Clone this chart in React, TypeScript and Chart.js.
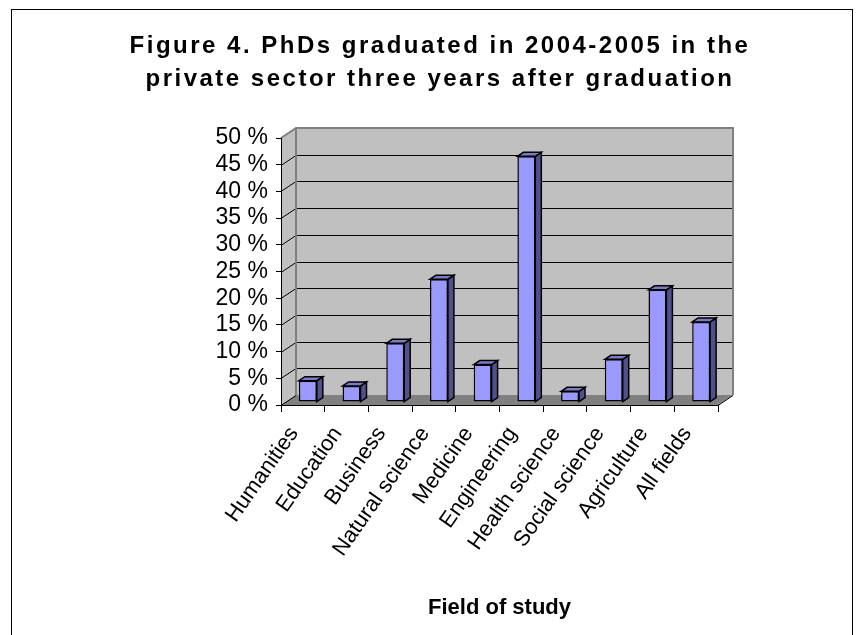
import React, { useEffect, useRef } from 'react';
import { Chart, registerables } from 'chart.js';

Chart.register(...registerables);

const categories = [
  'Humanities',
  'Education',
  'Business',
  'Natural science',
  'Medicine',
  'Engineering',
  'Health science',
  'Social science',
  'Agriculture',
  'All fields',
];
const shares = [4, 3, 11, 23, 7, 46, 2, 8, 21, 15];
const yMin = 0;
const yMax = 50;
const yStep = 5;
const titleLines = [
  'Figure 4. PhDs graduated in 2004-2005 in the',
  'private sector three years after graduation',
];
const xAxisTitle = 'Field of study';

const FONT = '"Liberation Sans", Arial, Helvetica, sans-serif';
const WALL_DX = 15;
const WALL_DY = -10;
const BAR_DX = 5;
const BAR_DY = -3;
const BAR_DEPTH_DX = 6;
const BAR_DEPTH_DY = -4;

function poly(ctx: CanvasRenderingContext2D, pts: number[][]) {
  ctx.beginPath();
  ctx.moveTo(pts[0][0], pts[0][1]);
  for (let i = 1; i < pts.length; i++) ctx.lineTo(pts[i][0], pts[i][1]);
  ctx.closePath();
}

const threeDPlugin = {
  id: 'threeD',
  beforeDraw(chart: any) {
    const ctx: CanvasRenderingContext2D = chart.ctx;
    const { left, right, top, bottom } = chart.chartArea;
    const ys = chart.scales.y;
    ctx.save();
    // outer frame
    ctx.strokeStyle = '#000';
    ctx.lineWidth = 1;
    ctx.strokeRect(11.5, 9.5, 841, 700);
    // side wall
    ctx.fillStyle = '#C0C0C0';
    poly(ctx, [
      [left, top],
      [left + WALL_DX, top + WALL_DY],
      [left + WALL_DX, bottom + WALL_DY],
      [left, bottom],
    ]);
    ctx.fill();
    // back wall
    ctx.fillRect(left + WALL_DX, top + WALL_DY, right - left, bottom - top);
    // floor
    ctx.fillStyle = '#808080';
    poly(ctx, [
      [left, bottom],
      [right, bottom],
      [right + WALL_DX, bottom + WALL_DY],
      [left + WALL_DX, bottom + WALL_DY],
    ]);
    ctx.fill();
    // grid lines
    ctx.strokeStyle = '#000';
    ctx.lineWidth = 1;
    ys.ticks.forEach((t: any) => {
      const py = Math.round(ys.getPixelForValue(t.value)) + 0.5;
      if (t.value > ys.min && t.value < ys.max) {
        ctx.beginPath();
        ctx.moveTo(left + WALL_DX, py + WALL_DY);
        ctx.lineTo(right + WALL_DX, py + WALL_DY);
        ctx.stroke();
      }
      if (t.value < ys.max) {
        ctx.beginPath();
        ctx.moveTo(left, py);
        ctx.lineTo(left + WALL_DX, py + WALL_DY);
        ctx.stroke();
      }
    });
    // wall borders
    ctx.strokeStyle = '#808080';
    ctx.lineWidth = 2;
    ctx.beginPath();
    ctx.moveTo(left, top);
    ctx.lineTo(left + WALL_DX, top + WALL_DY);
    ctx.lineTo(right + WALL_DX, top + WALL_DY);
    ctx.lineTo(right + WALL_DX, bottom + WALL_DY);
    ctx.moveTo(left + WALL_DX, top + WALL_DY);
    ctx.lineTo(left + WALL_DX, bottom + WALL_DY);
    ctx.stroke();
    ctx.restore();
  },
  afterDraw(chart: any) {
    const ctx: CanvasRenderingContext2D = chart.ctx;
    const { right, bottom } = chart.chartArea;
    ctx.save();
    ctx.strokeStyle = '#000';
    ctx.lineWidth = 1;
    ctx.beginPath();
    ctx.moveTo(right, bottom + 0.5);
    ctx.lineTo(right + WALL_DX, bottom + WALL_DY + 0.5);
    ctx.stroke();
    ctx.restore();
  },
  beforeDatasetsDraw(chart: any) {
    chart.ctx.save();
    chart.ctx.translate(BAR_DX, BAR_DY);
  },
  afterDatasetsDraw(chart: any) {
    const ctx: CanvasRenderingContext2D = chart.ctx;
    ctx.restore();
    const meta = chart.getDatasetMeta(0);
    ctx.save();
    ctx.strokeStyle = '#000';
    ctx.lineWidth = 1.5;
    ctx.lineJoin = 'miter';
    meta.data.forEach((el: any) => {
      const { x, y, base, width } = el.getProps(['x', 'y', 'base', 'width'], true);
      const l = x - width / 2 + BAR_DX;
      const r = x + width / 2 + BAR_DX;
      const t = y + BAR_DY;
      const b = base + BAR_DY;
      ctx.fillStyle = '#50508C';
      poly(ctx, [
        [r, t],
        [r + BAR_DEPTH_DX, t + BAR_DEPTH_DY],
        [r + BAR_DEPTH_DX, b + BAR_DEPTH_DY],
        [r, b],
      ]);
      ctx.fill();
      ctx.stroke();
      ctx.fillStyle = '#7A7AC8';
      poly(ctx, [
        [l, t],
        [l + BAR_DEPTH_DX, t + BAR_DEPTH_DY],
        [r + BAR_DEPTH_DX, t + BAR_DEPTH_DY],
        [r, t],
      ]);
      ctx.fill();
      ctx.stroke();
    });
    ctx.restore();
  },
};

const titleSpacingPlugin = {
  id: 'titleSpacing',
  afterLayout(chart: any) {
    const tb = chart.titleBlock;
    if (tb && !tb.__wrapped) {
      const orig = tb.draw;
      tb.draw = function (...args: any[]) {
        const ctx: any = chart.ctx;
        ctx.save();
        ctx.letterSpacing = '2.5px';
        orig.apply(tb, args);
        ctx.restore();
      };
      tb.__wrapped = true;
    }
  },
};

export default function App() {
  const ref = useRef<HTMLCanvasElement>(null);

  useEffect(() => {
    const canvas = ref.current;
    if (!canvas) return;
    const chart = new Chart(canvas, {
      type: 'bar',
      data: {
        labels: categories,
        datasets: [
          {
            data: shares,
            backgroundColor: '#9999FF',
            borderColor: '#000',
            borderWidth: 1.5,
            borderSkipped: false,
            barPercentage: 0.41,
            categoryPercentage: 1,
          },
        ],
      },
      options: {
        responsive: false,
        animation: false,
        layout: { padding: { left: 20, right: 0, top: 0, bottom: 0 } },
        plugins: {
          legend: { display: false },
          tooltip: { enabled: false },
          title: {
            display: true,
            text: titleLines,
            color: '#000',
            font: { family: FONT, size: 24, weight: 'bold', lineHeight: 1.375 },
            padding: { top: 30, bottom: 42 },
          },
        },
        scales: {
          x: {
            grid: {
              drawOnChartArea: false,
              drawTicks: true,
              tickLength: 7,
              color: '#000',
              offset: true,
            },
            border: { display: true, color: '#000', width: 1 },
            ticks: {
              autoSkip: false,
              minRotation: 55,
              maxRotation: 55,
              color: '#000',
              padding: 10,
              labelOffset: -9,
              font: { family: FONT, size: 22 },
            },
            title: {
              display: true,
              text: xAxisTitle,
              color: '#000',
              font: { family: FONT, size: 22, weight: 'bold' },
              padding: { top: 0, bottom: 14 },
            },
            afterFit(scale: any) {
              scale.height = 230;
            },
          },
          y: {
            min: yMin,
            max: yMax,
            grid: {
              drawOnChartArea: false,
              drawTicks: true,
              tickLength: 5,
              color: '#000',
            },
            border: { display: true, color: '#000', width: 1 },
            ticks: {
              stepSize: yStep,
              autoSkip: false,
              color: '#000',
              padding: 8,
              font: { family: FONT, size: 23 },
              callback: (v: any) => `${v} %`,
            },
            afterFit(scale: any) {
              scale.width = 261;
            },
          },
          yRight: {
            position: 'right',
            display: true,
            grid: { display: false },
            border: { display: false },
            ticks: { display: false },
            afterFit(scale: any) {
              scale.width = 142;
            },
          },
        },
      },
      plugins: [threeDPlugin, titleSpacingPlugin],
    } as any);
    return () => chart.destroy();
  }, []);

  return (
    <div
      style={{
        position: 'fixed',
        left: 0,
        top: 0,
        width: 860,
        height: 635,
        background: '#fff',
      }}
    >
      <canvas ref={ref} width={860} height={635} style={{ width: 860, height: 635, display: 'block' }} />
    </div>
  );
}
